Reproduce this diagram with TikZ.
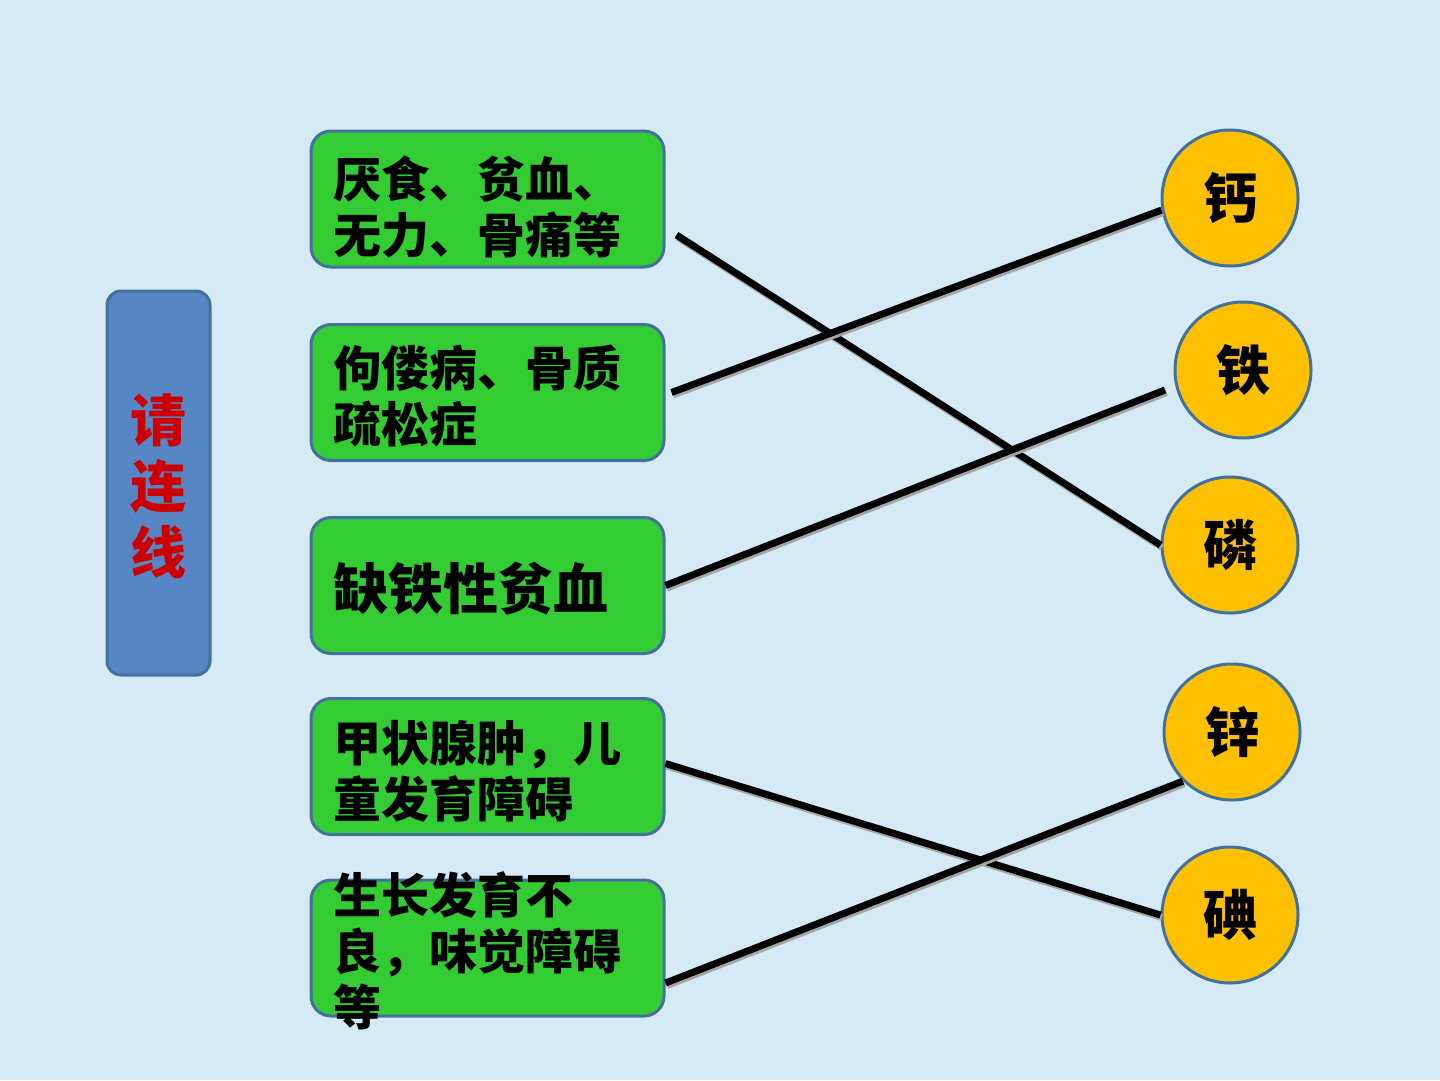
\documentclass[tikz,border=0pt]{standalone}
\usepackage{fontspec}
\newfontfamily\cjk{Noto Sans CJK SC}
\usetikzlibrary{calc}
\definecolor{bgc}{RGB}{214,234,246}
\definecolor{grn}{RGB}{51,204,51}
\definecolor{org}{RGB}{255,192,0}
\definecolor{edge}{RGB}{65,113,156}
\definecolor{blu}{RGB}{86,135,196}
\definecolor{redt}{RGB}{204,0,0}
\tikzset{
  gbox/.style={draw=edge, line width=3pt, fill=grn, rounded corners=20pt,
    minimum width=353pt, minimum height=136pt, inner sep=0pt},
  gtext/.style={anchor=west, align=left, inner sep=0pt,
    font=\cjk\bfseries\fontsize{48}{56}\selectfont},
  bbox/.style={draw=edge, line width=3pt, fill=blu, rounded corners=14pt,
    minimum width=103pt, minimum height=384pt, inner sep=0pt},
  circ/.style={circle, draw=edge, line width=3pt, fill=org, minimum size=136pt,
    inner sep=0pt, font=\cjk\bfseries\fontsize{54}{60}\selectfont},
  link/.style={line width=7pt, black,
    preaction={draw=black!35, line width=7pt, transform canvas={shift={(1.5pt,-2.5pt)}}}}
}
\begin{document}
\begin{tikzpicture}[x=1pt,y=-1pt]
\fill[bgc] (0,0) rectangle (1440,1080);
\useasboundingbox (0,0) rectangle (1440,1080);

% left label box
\node[bbox] (q) at (158.5,483) {};
\node[align=center, inner sep=0pt, text=redt,
  font=\cjk\bfseries\fontsize{56}{66}\selectfont] (qt) at (158,486) {请\\连\\线};

% green boxes
\node[gbox] (b1) at (487.5,199) {};
\node[gbox] (b2) at (487.5,392.5) {};
\node[gbox] (b3) at (487.5,585.5) {};
\node[gbox] (b4) at (487.5,766.5) {};
\node[gbox] (b5) at (487.5,948) {};

\node[gtext] (t1) at (333,207) {厌食、贫血、\\无力、骨痛等};
\node[gtext] (t2) at (333,396) {佝偻病、骨质\\疏松症};
\node[gtext, font=\cjk\bfseries\fontsize{55}{60}\selectfont] (t3) at (333,589) {缺铁性贫血};
\node[gtext] (t4) at (333,771) {甲状腺肿，儿\\童发育障碍};
\node[gtext] (t5) at (333,951) {生长发育不\\良，味觉障碍\\等};

% circles
\node[circ] (ca) at (1230,198) {钙};
\node[circ] (fe) at (1243,370) {铁};
\node[circ] (p)  at (1230,545) {磷};
\node[circ] (zn) at (1232,732) {锌};
\node[circ] (io) at (1230,915) {碘};

% connectors
\draw[link] ($(b1.east)+(11,36)$) -- (p.west);
\draw[link] ($(b2.east)+(6,0)$) -- (ca.190);
\draw[link] (b3.east) -- ($(fe.center)+(-78,20)$);
\draw[link] ($(b4.east)+(0,-3)$) -- (io.west);
\draw[link] ($(b5.east)+(0,35)$) -- (zn.225);
\end{tikzpicture}
\end{document}
